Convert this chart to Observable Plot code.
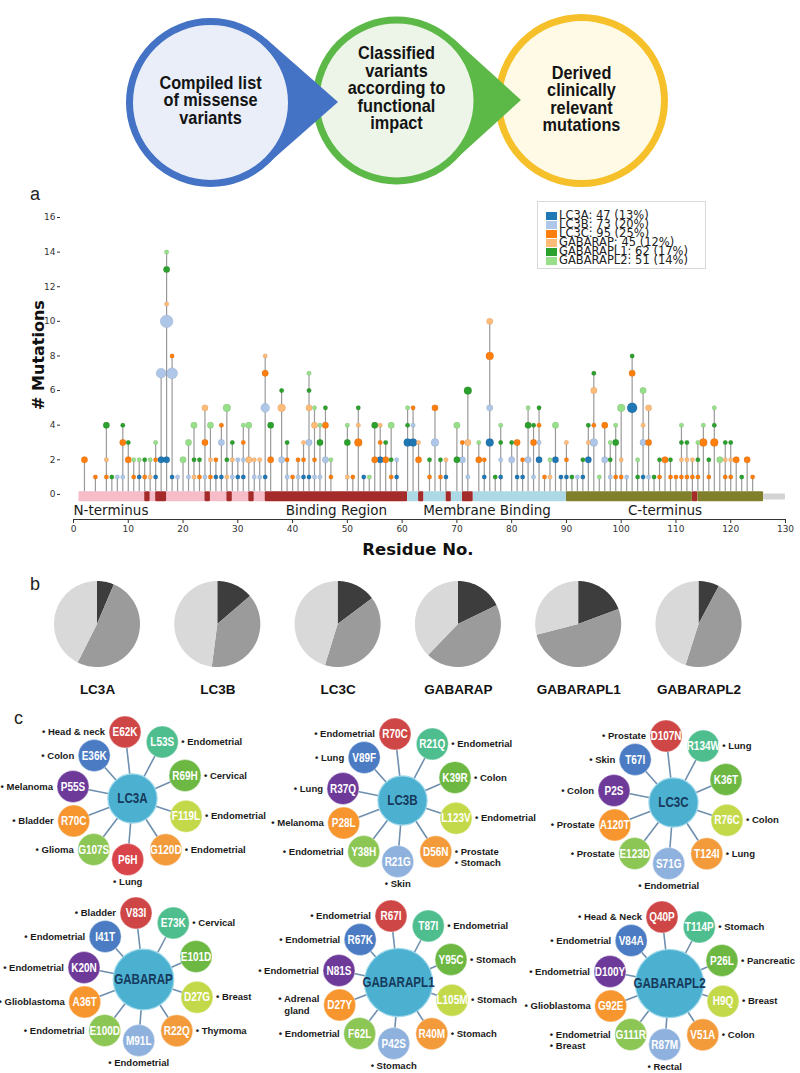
<!DOCTYPE html>
<html><head><meta charset="utf-8">
<script src="https://cdn.jsdelivr.net/npm/d3@7"></script>
<script src="https://cdn.jsdelivr.net/npm/@observablehq/plot@0.6"></script>
<style>
body{margin:0;background:#fff;}
#fig{position:relative;width:800px;height:1073px;overflow:hidden;font-family:"Liberation Sans",Arial,sans-serif;background:#fff;}
#fig svg{overflow:visible;}
</style></head><body><div id="fig"></div>
<script>
// ---------------- DATA ----------------
const flowSteps = ["Compiled list\nof missense\nvariants", "Classified\nvariants\naccording to\nfunctional\nimpact", "Derived\nclinically\nrelevant\nmutations"];

const proteins = ["LC3A","LC3B","LC3C","GABARAP","GABARAPL1","GABARAPL2"];
const proteinTotals = [47,73,95,45,62,51];
const proteinShares = [13,20,25,12,17,14];

// [residue, number of missense mutations]
const lc3aSites = [[12,1],[15,1],[16,2],[17,2],[18,1],[26,1],[27,1],[30,1],[31,1],[35,1],[42,1],[43,1],[53,1],[56,2],[59,1],[61,3],[62,3],[68,1],[75,1],[76,3],[78,1],[81,1],[82,1],[85,2],[88,2],[89,1],[90,1],[93,1],[94,2],[102,5],[104,1]];
const lc3bSites = [[8,1],[9,1],[16,5],[17,8],[18,6],[19,1],[21,1],[24,1],[27,2],[29,1],[30,1],[31,1],[33,1],[34,1],[35,4],[38,2],[39,1],[41,1],[43,2],[44,1],[45,1],[46,2],[59,1],[62,1],[66,3],[71,2],[72,1],[76,2],[78,1],[80,2],[83,2],[84,1],[85,1],[92,1],[95,3],[97,2],[98,1],[101,1],[104,2],[105,1]];
const lc3cSites = [[2,2],[4,1],[6,1],[9,2],[10,2],[11,1],[13,1],[15,1],[18,1],[23,1],[24,2],[25,1],[26,1],[27,1],[31,1],[35,2],[36,2],[39,1],[40,1],[41,1],[42,1],[44,1],[46,2],[47,1],[51,1],[52,3],[55,2],[56,1],[57,2],[58,1],[62,1],[63,2],[65,1],[66,2],[67,1],[71,1],[74,2],[75,1],[76,3],[81,2],[82,1],[84,2],[85,1],[86,1],[90,1],[95,1],[97,2],[99,1],[100,1],[102,2],[105,2],[107,1],[108,2],[109,1],[110,1],[111,1],[112,1],[113,1],[114,1],[115,3],[116,1],[117,3],[119,1],[120,1],[121,2],[123,2],[124,1]];
const gabarapSites = [[6,1],[14,1],[17,1],[22,1],[24,2],[25,1],[28,1],[29,1],[32,2],[33,1],[34,1],[35,1],[38,3],[42,1],[43,2],[44,2],[50,1],[52,1],[56,1],[63,1],[68,1],[72,2],[76,2],[87,1],[90,1],[94,1],[95,2],[100,1],[104,1],[105,2],[111,1],[112,1],[113,1],[119,1],[120,1]];
const gabarapl1Sites = [[6,2],[7,1],[9,1],[10,1],[13,1],[17,2],[22,1],[23,1],[28,1],[29,1],[36,2],[38,1],[39,1],[43,1],[45,2],[46,1],[50,2],[52,1],[55,2],[57,1],[58,1],[61,1],[65,1],[67,1],[70,2],[72,3],[77,1],[78,1],[80,1],[83,2],[84,1],[85,1],[91,1],[93,1],[94,1],[95,1],[98,1],[99,2],[102,1],[103,1],[106,1],[107,1],[109,1],[111,1],[112,1],[114,1],[116,1],[117,1],[119,1],[120,1],[122,1]];
const gabarapl2Sites = [[11,1],[12,1],[14,1],[15,1],[17,1],[20,2],[21,2],[22,2],[25,2],[28,3],[31,1],[32,2],[43,1],[44,1],[45,1],[47,1],[50,1],[54,1],[58,2],[61,1],[70,2],[74,1],[78,1],[83,1],[87,1],[88,2],[96,1],[98,1],[99,1],[100,3],[103,1],[104,2],[111,1],[114,1],[115,1],[117,1],[118,2]];

// protein track: [start, end, region]
const trackSegments = [[1,13,"N"],[13,14,"B"],[14,15,"N"],[15,17,"B"],[17,24,"N"],[24,25,"B"],[25,28,"N"],[28,29,"B"],[29,32,"N"],[32,33,"B"],[33,35,"N"],[35,61,"B"],[61,63,"M"],[63,64,"B"],[64,68,"M"],[68,69,"B"],[69,71,"M"],[71,73,"B"],[73,90,"M"],[90,113,"C"],[113,114,"B"],[114,126,"C"],[126,130,"T"]];
const regionNames = ["N-terminus","Binding Region","Membrane Binding","C-terminus"];
const regionLabelAt = [0,48,75.5,108];
const xTicks = [0,10,20,30,40,50,60,70,80,90,100,110,120,130];
const yTicks = [0,2,4,6,8,10,12,14,16];

// panel b: functional impact classes per protein
const impactClasses = ["high","medium","low"];
const impactHigh = [3,10,14,8,12,4];
const impactMedium = [24,28,38,20,32,24];
const impactLow = [20,35,43,17,18,23];

// panel c
const lc3aMut = ["E62K","L53S","R69H","F119L","G120D","P6H","G107S","R70C","P55S","E36K"];
const lc3aTissue = ["Head & neck","Endometrial","Cervical","Endometrial","Endometrial","Lung","Glioma","Bladder","Melanoma","Colon"];
const lc3bMut = ["R70C","R21Q","K39R","L123V","D56N","R21G","Y38H","P28L","R37Q","V89F"];
const lc3bTissue = ["Endometrial","Endometrial","Colon","Endometrial","Prostate|Stomach","Skin","Endometrial","Melanoma","Lung","Lung"];
const lc3cMut = ["D107N","R134W","K36T","R76C","T124I","S71G","E123D","A120T","P2S","T67I"];
const lc3cTissue = ["Prostate","Lung","","Colon","Lung","Endometrial","Prostate","Prostate","Colon","Skin"];
const gabarapMut = ["V83I","E73K","E101D","D27G","R22Q","M91L","E100D","A36T","K20N","I41T"];
const gabarapTissue = ["Bladder","Cervical","","Breast","Thymoma","Endometrial","Endometrial","Glioblastoma","Endometrial","Endometrial"];
const gabarapl1Mut = ["R67I","T87I","Y95C","L105M","R40M","P42S","F62L","D27Y","N81S","R67K"];
const gabarapl1Tissue = ["Endometrial","Endometrial","Stomach","Stomach","Stomach","Stomach","Endometrial","Adrenal\ngland","Endometrial","Endometrial"];
const gabarapl2Mut = ["Q40P","T114P","P26L","H9Q","V51A","R87M","G111R","G92E","D100Y","V84A"];
const gabarapl2Tissue = ["Head & Neck","Stomach","Pancreatic","Breast","Colon","Rectal","Endometrial|Breast","Glioblastoma","Endometrial","Endometrial"];

// ---------------- STYLE / LAYOUT ----------------
const proteinColors = ["#1f77b4","#aec7e8","#ff7f0e","#ffbb78","#2ca02c","#98df8a"];
const trackColors = {N:"#f6bcc8",B:"#a52a2a",M:"#add8e6",C:"#7f7f2c",T:"#d3d3d3"};
const impactColors = ["#3d3d3d","#9b9b9b","#d9d9d9"];
const narrow = "'Liberation Sans Narrow','Arial Narrow','Liberation Sans',Arial,sans-serif";
const sans = "'Liberation Sans',Arial,sans-serif";
const dejavu = "'DejaVu Sans',Verdana,sans-serif";

const fig = document.getElementById("fig");
function put(node, left, top){ node.style.position="absolute"; node.style.left=left+"px"; node.style.top=top+"px"; fig.appendChild(node); return node; }
function htmlText(txt, left, top, css){ const d=document.createElement("div"); d.textContent=txt; d.style.cssText=css+";white-space:nowrap;"; return put(d,left,top); }
// horizontally condense texts of marks drawn with the narrow face (svg must be in the DOM)
function condense(svg, f){
  svg.querySelectorAll('g[font-family*="Narrow"] text').forEach(t=>{
    const spans=t.querySelectorAll("tspan");
    (spans.length?[...spans]:[t]).forEach(el=>{
      const L=el.getComputedTextLength();
      if(L>0){ el.setAttribute("textLength",(L*f).toFixed(2)); el.setAttribute("lengthAdjust","spacingAndGlyphs"); }
    });
  });
}

// ---------------- FLOW DIAGRAM ----------------
{
  const stroke=["#4472c4","#5cb947","#f5c02a"], fill=["#e9eef8","#edf5e8","#fffae6"];
  const cx=[210,396,581], cy=[102,100,100], rr=[81,80.5,83], tipX=[338,521], ty=[100,88,99];
  const marks=[];
  for(let i=2;i>=0;i--){
    if(i<2){
      const R=rr[i]+3.5, tx=tipX[i], tyy=cy[i];
      const d=Math.hypot(tx-cx[i],0), a=Math.acos(R/d);
      const pts=[[cx[i]+R*Math.cos(a),cy[i]-R*Math.sin(a)],[cx[i]+R*Math.cos(a),cy[i]+R*Math.sin(a)]];
      marks.push(Plot.area(pts,{x1:()=>tx,y1:()=>tyy,x2:d=>d[0],y2:d=>d[1],fill:stroke[i]}));
    }
    marks.push(Plot.dot([i],{x:()=>cx[i],y:()=>cy[i],r:rr[i],fill:fill[i],stroke:stroke[i],strokeWidth:7}));
  }
  marks.push(Plot.text(flowSteps,{x:(d,i)=>cx[i],y:(d,i)=>ty[i],text:d=>d,fontSize:18.5,fontWeight:"bold",lineHeight:0.95,fill:"#141414",fontFamily:narrow}));
  const svg=Plot.plot({width:800,height:195,margin:0,
    x:{domain:[0,800],range:[0,800],axis:null},y:{domain:[0,195],range:[0,195],axis:null},
    style:{background:"transparent"},marks});
  put(svg,0,0);
  condense(svg,0.88);
}

// ---------------- PANEL A ----------------
{
  const lists=[lc3aSites,lc3bSites,lc3cSites,gabarapSites,gabarapl1Sites,gabarapl2Sites];
  const byRes=new Map();
  lists.forEach((list,p)=>list.forEach(([res,n])=>{ if(!byRes.has(res)) byRes.set(res,[]); byRes.get(res).push({p,res,n}); }));
  const dots=[], stems=[];
  for(const [res,arr] of byRes){ arr.sort((a,b)=>a.p-b.p); let c=0; for(const d of arr){ c+=d.n; dots.push({res,n:d.n,cum:c,protein:proteins[d.p]}); } stems.push({res,total:c}); }
  const yMin=-1.45, pxPerRes=712/130;
  const trackMarks=Object.keys(trackColors).map(k=>Plot.rect(trackSegments.filter(s=>s[2]===k),{
    x1:d=>d[0],x2:d=>d[1],y1:k==="T"?0.02:0.15,y2:k==="T"?-0.32:-0.43,fill:trackColors[k],rx:1}));
  const svg=Plot.plot({width:800,height:380,marginLeft:60,marginRight:15,marginTop:37,marginBottom:41,
    x:{domain:[-13/pxPerRes,130],ticks:xTicks,tickSize:4,tickPadding:2,label:null},
    y:{domain:[yMin,16],ticks:yTicks,tickSize:3,tickPadding:2,label:null},
    r:{type:"sqrt",domain:[0,8],range:[0,6.4]},
    color:{domain:proteins,range:proteinColors},
    style:{background:"transparent",fontFamily:dejavu,fontSize:"9px",color:"#333"},
    marks:[
      ...trackMarks,
      Plot.ruleX(stems,{x:"res",y1:0.15,y2:"total",stroke:"#9a9a9a",strokeWidth:1.2}),
      Plot.dot(dots,{x:"res",y:"cum",r:"n",fill:"protein",stroke:"#000",strokeOpacity:0.12,strokeWidth:0.6}),
      Plot.ruleY([yMin],{x1:0,x2:130,stroke:"#333",strokeWidth:1}),
      Plot.text(regionNames.slice(0,1),{x:(d,i)=>regionLabelAt[i],y:yMin,dy:-9,text:d=>d,textAnchor:"start",fontSize:13.5,fill:"#1a1a1a",fontFamily:dejavu}),
      Plot.text(regionNames.slice(1),{x:(d,i)=>regionLabelAt[i+1],y:yMin,dy:-9,text:d=>d,textAnchor:"middle",fontSize:13.5,fill:"#1a1a1a",fontFamily:dejavu})
    ]});
  put(svg,0,180);
  htmlText("a",30,184,"font:18px "+sans+";color:#222");
  const ylab=htmlText("# Mutations",0,0,"font:bold 16px "+dejavu+";color:#111;transform:translate(-50%,-50%) rotate(-90deg);transform-origin:center");
  ylab.style.left="38px"; ylab.style.top="355px";
  const xl=htmlText("Residue No.",0,0,"font:bold 16.5px "+dejavu+";color:#111;transform:translate(-50%,-50%)");
  xl.style.left="418px"; xl.style.top="549px";
  // legend
  const leg=document.createElement("div");
  leg.style.cssText="width:169px;height:68px;border:1px solid #d9d9d9;background:#fff;box-sizing:border-box;padding-top:9px;padding-left:8px;font:11.5px "+dejavu+";color:#222;";
  proteins.forEach((p,i)=>{
    const row=document.createElement("div");
    row.style.cssText="height:9px;line-height:9px;display:flex;align-items:center;white-space:nowrap;";
    const sw=document.createElement("span"); sw.style.cssText="display:inline-block;width:11px;height:8px;margin-right:2px;background:"+proteinColors[i];
    const t=document.createElement("span"); t.textContent=`${p}: ${proteinTotals[i]} (${proteinShares[i]}%)`;
    row.appendChild(sw); row.appendChild(t); leg.appendChild(row);
  });
  put(leg,537,201);
}

// ---------------- PANEL B ----------------
{
  const step=120.3/43, pts=[];
  proteins.forEach((g,i)=>{
    const arcs=d3.pie().sort(null)([impactHigh[i],impactMedium[i],impactLow[i]]);
    arcs.forEach((a,k)=>{ const n=Math.max(2,Math.ceil((a.endAngle-a.startAngle)/0.03));
      for(let j=0;j<=n;j++){ const t=a.startAngle+(a.endAngle-a.startAngle)*j/n;
        pts.push({key:g+"-"+k,cls:impactClasses[k],cx:i*step,x:i*step+Math.sin(t),y:Math.cos(t)}); } });
  });
  const svg=Plot.plot({width:800,height:130,margin:0,
    x:{domain:[0,1],range:[97,140],axis:null},y:{domain:[0,1],range:[54,11],axis:null},
    color:{domain:impactClasses,range:impactColors},
    style:{background:"transparent"},
    marks:[
      Plot.area(pts,{x1:"cx",y1:()=>0,x2:"x",y2:"y",z:"key",fill:"cls"}),
      Plot.text(proteins,{x:(d,i)=>i*step,y:()=>-1.51,text:d=>d,fontSize:13.5,fontWeight:"bold",fill:"#111",fontFamily:sans})
    ]});
  put(svg,0,570);
  htmlText("b",30,574,"font:18px "+sans+";color:#222");
}

// ---------------- PANEL C ----------------
{
  const muts=[lc3aMut,lc3bMut,lc3cMut,gabarapMut,gabarapl1Mut,gabarapl2Mut];
  const tissues=[lc3aTissue,lc3bTissue,lc3cTissue,gabarapTissue,gabarapl1Tissue,gabarapl2Tissue];
  const centers=[[132,798],[402,800],[673,802],[143,979],[398,982],[669,983]];
  const layout=[[-7.5,-66.5],[29.8,-56.5],[52.5,-23],[53.5,17.8],[33.3,51.3],[-4.8,61],[-38.8,51],[-58.8,22.5],[-59.5,-12],[-38.3,-43]];
  const slotColors=["#cf4646","#4fbe8e","#6cb843","#c4d94a","#f39a3a","#8fb1dd","#8cc654","#f7952f","#6e3a9a","#4a7bc3"];
  const nodeR=16;
  const ctx=document.createElement("canvas").getContext("2d");
  const lblFont="bold 9.5px "+sans;
  const tw=s=>{ctx.font=lblFont;return ctx.measureText(s).width;};
  proteins.forEach((gene,k)=>{
    const nodes=muts[k].map((m,s)=>({m,s,x:layout[s][0],y:layout[s][1],col:(k===0&&s===5)?"#d9434a":slotColors[s]}));
    const rc=17+1.9*gene.length;
    const lines=[];
    nodes.forEach((n,s)=>{
      const t=tissues[k][s]; if(!t) return;
      const parts=[]; t.split("|").forEach(p=>p.split("\n").forEach((q,j)=>parts.push(j===0?"\u2022 "+q:q)));
      const side=(s>=1&&s<=4)?"right":(s===5?"below":"left");
      const w0=tw(parts[0]), bw=tw("\u2022 ");
      const lift=(side==="left"&&parts.length>1&&!parts[1].startsWith("\u2022"))?-6:0;
      parts.forEach((q,j)=>{
        let x0,y0;
        if(side==="right"){ x0=n.x+nodeR+3; y0=n.y+j*11.5; }
        else if(side==="left"){ x0=n.x-nodeR-4-w0; y0=n.y+lift+j*11.5; }
        else { x0=n.x-tw(q)/2; y0=n.y+nodeR+6+j*11.5; }
        if(!q.startsWith("\u2022")) x0+=bw;
        lines.push({q,x:x0,y:y0});
      });
    });
    const svg=Plot.plot({width:300,height:210,margin:0,
      x:{domain:[-150,150],range:[0,300],axis:null},y:{domain:[-105,105],range:[0,210],axis:null},
      style:{background:"transparent",overflow:"visible"},
      marks:[
        Plot.link(nodes,{x1:()=>0,y1:()=>0,x2:"x",y2:"y",stroke:"#6f8fae",strokeWidth:1.6}),
        Plot.dot([gene],{x:()=>0,y:()=>0,r:rc,fill:"#4cb1d1",stroke:"#9fd8ea",strokeWidth:1.2}),
        Plot.dot(nodes,{x:"x",y:"y",r:nodeR,fill:d=>d.col,stroke:"#ffffff",strokeOpacity:0.5,strokeWidth:0.8}),
        Plot.text(nodes,{x:"x",y:"y",text:"m",fill:"#fff",fontSize:12.5,fontWeight:"bold",fontFamily:narrow}),
        Plot.text([gene],{x:()=>0,y:()=>0,text:d=>d,fill:"#163a5c",fontSize:14.5,fontWeight:"bold",fontFamily:narrow}),
        Plot.text(lines,{x:"x",y:"y",text:"q",textAnchor:"start",fill:"#1a1a1a",fontSize:9.5,fontWeight:"bold",fontFamily:sans})
      ]});
    put(svg,centers[k][0]-150,centers[k][1]-105);
    condense(svg,0.8);
  });
  htmlText("c",14,708,"font:18px "+sans+";color:#222");
}
</script></body></html>
